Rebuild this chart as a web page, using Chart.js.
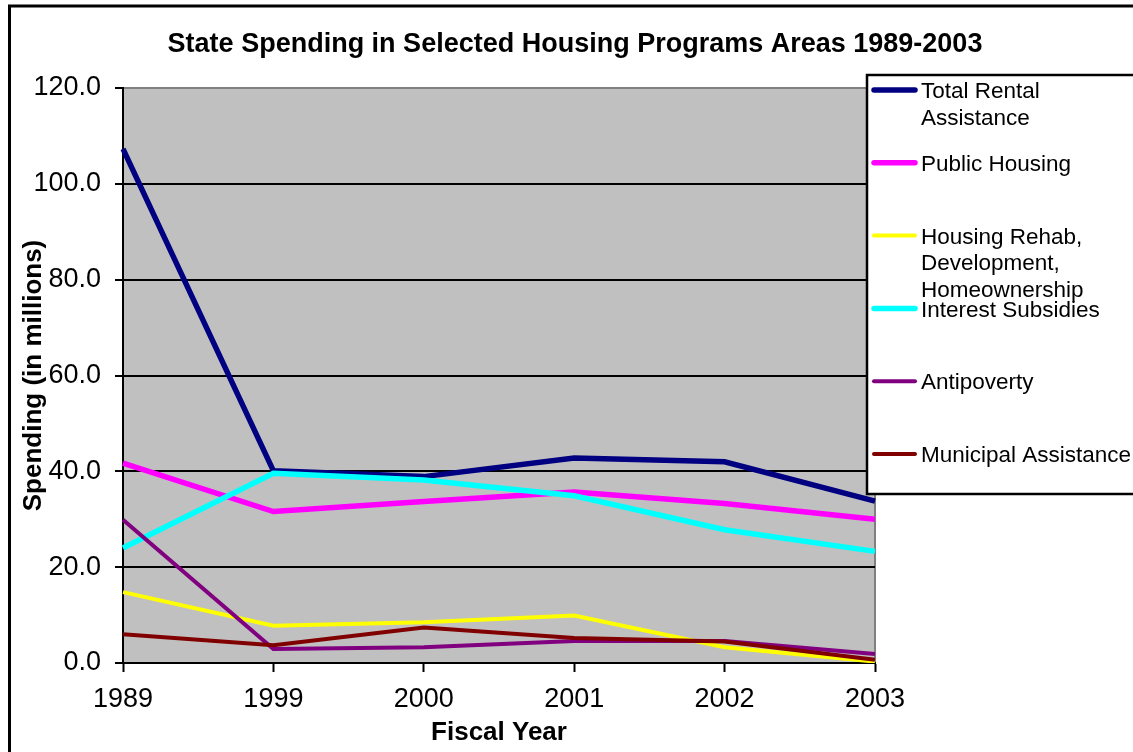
<!DOCTYPE html>
<html>
<head>
<meta charset="utf-8">
<title>State Spending in Selected Housing Programs Areas 1989-2003</title>
<script src="https://cdn.jsdelivr.net/npm/chart.js@4"></script>
<style>
  html, body { margin: 0; padding: 0; background: #fff; }
  canvas { display: block; }
</style>
</head>
<body>
<canvas id="spendingChart" width="1133" height="752"></canvas>
<script>
// Fiscal years on the x axis
const years = ['1989', '1999', '2000', '2001', '2002', '2003'];

// Spending per program area, in millions
const totalRental = [107.3, 40.1, 38.9, 42.8, 42.0, 33.8];
const publicHousing = [41.7, 31.6, 33.7, 35.7, 33.3, 30.0];
const housingRehab = [14.8, 7.8, 8.5, 9.9, 3.3, 0.3];
const interestSubsidies = [24.0, 39.6, 38.2, 34.9, 27.8, 23.3];
const antipoverty = [29.9, 2.9, 3.3, 4.6, 4.6, 1.9];
const municipalAssistance = [6.0, 3.7, 7.4, 5.2, 4.5, 0.7];

// Legend text, split into the lines it wraps to
const seriesLabels = [
    ['Total Rental', 'Assistance'],
    ['Public Housing'],
    ['Housing Rehab,', 'Development,', 'Homeownership'],
    ['Interest Subsidies'],
    ['Antipoverty'],
    ['Municipal Assistance']
];
const seriesValues = [totalRental, publicHousing, housingRehab, interestSubsidies, antipoverty, municipalAssistance];

// y axis ticks
const yTicks = [0, 20, 40, 60, 80, 100, 120];

const seriesColors = ['#000080', '#ff00ff', '#ffff00', '#00ffff', '#800080', '#800000'];
const seriesWidths = [5.5, 5.5, 4, 5.5, 4, 4];

const FONT = '"Liberation Sans", Arial, sans-serif';

// Grey plot background, outer frame, title and the boxed legend
const frame = {
    id: 'frame',
    beforeDraw(chart) {
        const { ctx, chartArea: a } = chart;
        ctx.save();
        ctx.fillStyle = '#c0c0c0';
        ctx.fillRect(a.left, a.top, a.right - a.left, a.bottom - a.top);
        ctx.strokeStyle = '#808080';
        ctx.lineWidth = 2;
        ctx.beginPath();
        ctx.moveTo(a.right, a.top);
        ctx.lineTo(a.right, a.bottom);
        ctx.stroke();
        ctx.restore();
    },
    afterDraw(chart) {
        const { ctx } = chart;
        ctx.save();

        // outer border (runs off the right and bottom edges)
        ctx.strokeStyle = '#000';
        ctx.lineWidth = 3;
        ctx.strokeRect(9.5, 6, 1140, 760);

        // title
        ctx.fillStyle = '#000';
        ctx.font = 'bold 27px ' + FONT;
        ctx.textAlign = 'center';
        ctx.textBaseline = 'middle';
        ctx.fillText('State Spending in Selected Housing Programs Areas 1989-2003', 575, 45);

        // legend box
        ctx.fillStyle = '#fff';
        ctx.fillRect(867, 75, 280, 419);
        ctx.lineWidth = 2.5;
        ctx.strokeStyle = '#000';
        ctx.strokeRect(867, 75, 280, 419);

        ctx.font = '22.5px ' + FONT;
        ctx.textAlign = 'left';
        chart.data.datasets.forEach((ds, i) => {
            const y = 92 + i * 72.8;
            ctx.strokeStyle = ds.borderColor;
            ctx.lineWidth = ds.borderWidth;
            ctx.lineCap = 'round';
            ctx.beginPath();
            ctx.moveTo(874, y - 2);
            ctx.lineTo(915, y - 2);
            ctx.stroke();
            ctx.fillStyle = '#000';
            seriesLabels[i].forEach((line, j) => {
                ctx.fillText(line, 921, y + j * 26.5);
            });
        });
        ctx.restore();
    }
};

const datasets = seriesValues.map((values, i) => ({
    label: seriesLabels[i].join(' '),
    data: values,
    borderColor: seriesColors[i],
    backgroundColor: seriesColors[i],
    borderWidth: seriesWidths[i],
    pointRadius: 0,
    tension: 0,
    fill: false,
    // later series sit on top
    order: seriesValues.length - i
}));

const ctx = document.getElementById('spendingChart').getContext('2d');
const chart = new Chart(ctx, {
    type: 'line',
    data: { labels: years, datasets },
    plugins: [frame],
    options: {
        responsive: false,
        animation: false,
        layout: { padding: { top: 88, right: 258, bottom: 0, left: 0 } },
        plugins: {
            legend: { display: false },
            tooltip: { enabled: false }
        },
        scales: {
            x: {
                offset: false,
                afterFit(scale) {
                    scale.height = 89;
                    scale.paddingLeft = 0;
                    scale.paddingRight = 0;
                },
                grid: {
                    drawOnChartArea: false,
                    drawTicks: true,
                    tickLength: 9,
                    tickWidth: 2,
                    tickColor: '#000'
                },
                border: { color: '#000', width: 2 },
                ticks: {
                    color: '#000',
                    font: { family: FONT, size: 27 },
                    padding: 11,
                    maxRotation: 0,
                    autoSkip: false
                },
                title: {
                    display: true,
                    text: 'Fiscal Year',
                    color: '#000',
                    font: { family: FONT, size: 26, weight: 'bold' },
                    padding: { top: 0, bottom: 4 }
                }
            },
            y: {
                min: yTicks[0],
                max: yTicks[yTicks.length - 1],
                afterFit(scale) {
                    scale.width = 123;
                    scale.paddingTop = 0;
                    scale.paddingBottom = 0;
                },
                afterBuildTicks(scale) {
                    scale.ticks = yTicks.map(v => ({ value: v }));
                },
                grid: {
                    color: c => (c.tick && c.tick.value === yTicks[yTicks.length - 1]) ? '#808080' : '#000',
                    lineWidth: c => (c.tick && c.tick.value === yTicks[0]) ? 0 : 2,
                    drawTicks: true,
                    tickLength: 8,
                    tickWidth: 2,
                    tickColor: '#000'
                },
                border: { color: '#000', width: 2 },
                ticks: {
                    color: '#000',
                    font: { family: FONT, size: 27 },
                    padding: 14,
                    callback: v => Number(v).toFixed(1)
                },
                title: {
                    display: true,
                    text: 'Spending (in millions)',
                    color: '#000',
                    font: { family: FONT, size: 26, weight: 'bold' },
                    padding: { top: 18, bottom: 0 }
                }
            }
        }
    }
});
</script>
</body>
</html>
